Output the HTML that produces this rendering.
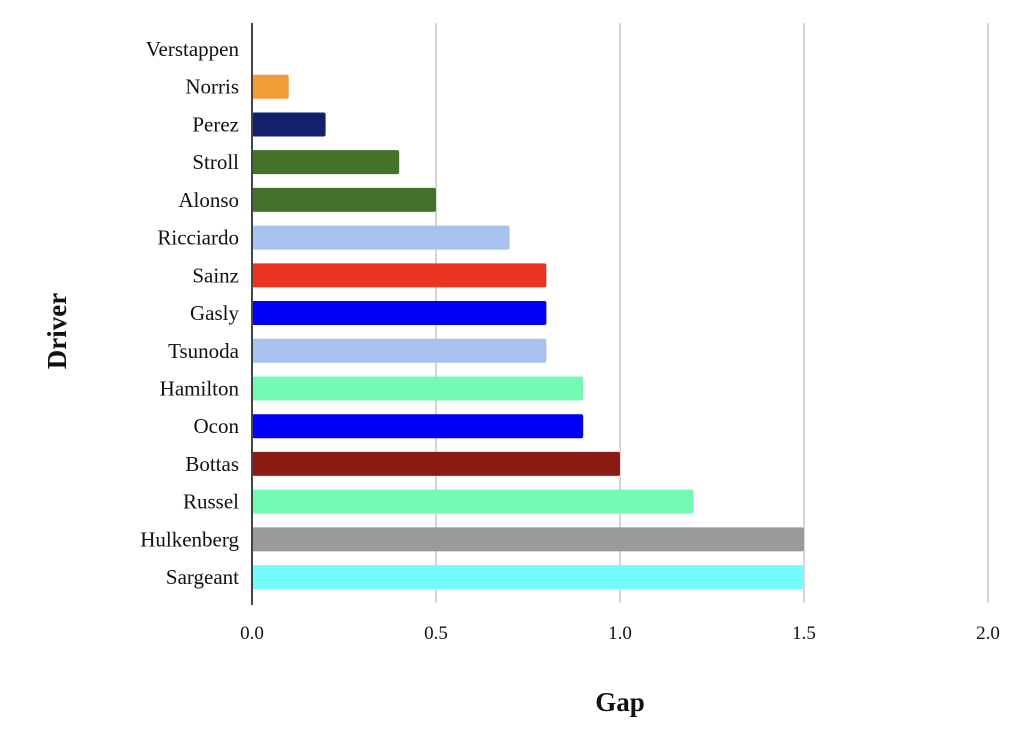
<!DOCTYPE html>
<html><head><meta charset="utf-8"><style>
body{margin:0;background:#fff}
svg text{font-family:"Liberation Serif",serif;fill:#111}
</style></head><body>
<svg id="c" width="1024" height="750"></svg>
<script>
const drivers=["Verstappen","Norris","Perez","Stroll","Alonso","Ricciardo","Sainz","Gasly","Tsunoda","Hamilton","Ocon","Bottas","Russel","Hulkenberg","Sargeant"];
const gaps=[0,0.1,0.2,0.4,0.5,0.7,0.8,0.8,0.8,0.9,0.9,1.0,1.2,1.5,1.5];
const colors=["#e10600","#f39c3a","#13206b","#43722b","#43722b","#a9c1ef","#ea3323","#0000f5","#a9c1ef","#73fbb4","#0000f5","#8a1a13","#73fbb4","#9b9b9b","#74fbfd"];
const ticks=[0,0.5,1.0,1.5,2.0];
const NS="http://www.w3.org/2000/svg";
const svg=document.getElementById('c');
const x=v=>252+v*368;
const y=i=>49+i*37.72;
function mk(t,a,p){const e=document.createElementNS(NS,t);for(const k in a)e.setAttribute(k,a[k]);(p||svg).appendChild(e);return e;}
ticks.forEach(t=>{
 if(t>0){const g=mk('line',{x1:x(t),x2:x(t),y1:23,y2:603,stroke:'#d6d6d6','stroke-width':2});
 
 }
 const l=mk('text',{x:x(t),y:639,'text-anchor':'middle','font-size':19});
 
 
 l.textContent=t.toFixed(1);
});
drivers.forEach((d,i)=>{
 const l=mk('text',{x:239,y:y(i)+7,'text-anchor':'end','font-size':21});
 
 
 l.textContent=d;
 if(gaps[i]>0){
 const b=mk('rect',{x:x(0),y:y(i)-12,width:x(gaps[i])-x(0),height:24,rx:2,fill:colors[i]});
 
 }
});
const ax=mk('line',{x1:252,x2:252,y1:23,y2:605,stroke:'#444','stroke-width':2});


const xt=mk('text',{x:620,y:711,'text-anchor':'middle','font-size':27,'font-weight':'bold'});


xt.textContent='Gap';
const yt=mk('text',{x:0,y:0,'text-anchor':'middle','font-size':27,'font-weight':'bold',transform:'translate(66,331) rotate(-90)'});


yt.textContent='Driver';
</script>
</body></html>
